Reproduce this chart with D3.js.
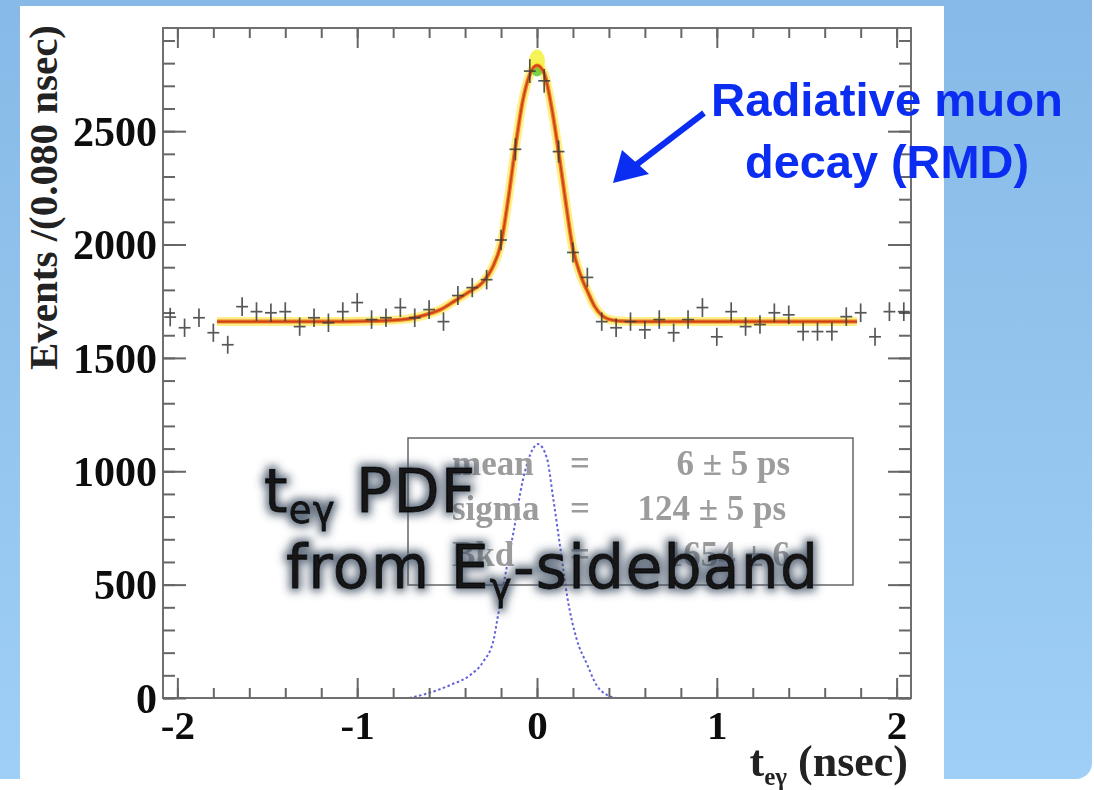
<!DOCTYPE html>
<html><head><meta charset="utf-8">
<script src="https://cdn.jsdelivr.net/npm/d3@7"></script>
<style>html,body{margin:0;padding:0;background:#fff;} svg{display:block}</style>
</head><body><svg id="c" width="1094" height="790"></svg>
<script>
// ---- data ----
const binCenters = [-2.04,-1.96,-1.88,-1.80,-1.72,-1.64,-1.56,-1.48,-1.40,-1.32,-1.24,-1.16,-1.08,-1.00,-0.92,-0.84,-0.76,-0.68,-0.60,-0.52,-0.44,-0.36,-0.28,-0.20,-0.12,-0.04,
                    0.04,0.12,0.20,0.28,0.36,0.44,0.52,0.60,0.68,0.76,0.84,0.92,1.00,1.08,1.16,1.24,1.32,1.40,1.48,1.56,1.64,1.72,1.80,1.88,1.96,2.04];
const counts = [1680,1633,1677,1611,1558,1726,1704,1699,1704,1638,1677,1655,1704,1744,1669,1677,1722,1677,1713,1660,1775,1810,1845,2020,2420,2765,
                2722,2410,1965,1855,1660,1633,1660,1624,1669,1611,1669,1722,1593,1704,1638,1647,1699,1690,1616,1616,1616,1682,1699,1593,1704,1704];
const fitT = [-1.78,-1.2,-0.9,-0.72,-0.62,-0.54,-0.46,-0.38,-0.30,-0.25,-0.20,-0.16,-0.12,-0.08,-0.04,0.0,0.04,0.08,0.12,0.16,0.20,0.24,0.28,0.32,0.36,0.40,0.46,0.6,1.0,1.78];
const fitN = [1660,1660,1663,1672,1690,1712,1750,1790,1835,1895,2005,2200,2430,2630,2750,2790,2755,2610,2410,2185,1980,1870,1795,1728,1688,1670,1663,1660,1660,1660];
const pdfT = [-0.71,-0.61,-0.48,-0.37,-0.30,-0.24,-0.22,-0.18,-0.13,-0.08,-0.02,0.005,0.055,0.09,0.13,0.17,0.22,0.28,0.33,0.39,0.44];
const pdfN = [0,20,58,102,159,261,350,527,735,956,1102,1120,1058,881,660,438,261,146,58,13,0];
const xTickValues = [-2,-1,0,1,2];
const yTickValues = [0,500,1000,1500,2000,2500];
const statNames = ["mean","sigma","Bkd"];
const statValues = ["6 \u00b1 5 ps","124 \u00b1 5 ps","1654 \u00b1 6"];

// ---- drawing ----
const svg = d3.select("#c");
const defs = svg.append("defs");
const g1 = defs.append("linearGradient").attr("id","bg").attr("x1",0).attr("y1",0).attr("x2",0).attr("y2",1);
g1.append("stop").attr("offset","0%").attr("stop-color","#86b9e6");
g1.append("stop").attr("offset","100%").attr("stop-color","#9fcff6");
const f = defs.append("filter").attr("id","glow").attr("x","-20%").attr("y","-40%").attr("width","140%").attr("height","180%");
f.append("feMorphology").attr("in","SourceAlpha").attr("operator","dilate").attr("radius",2.5).attr("result","d");
f.append("feGaussianBlur").attr("in","d").attr("stdDeviation",4).attr("result","b");
f.append("feFlood").attr("flood-color","#3a4a5e").attr("flood-opacity",0.78);
f.append("feComposite").attr("in2","b").attr("operator","in").attr("result","s");
const fm = f.append("feMerge"); fm.append("feMergeNode").attr("in","s"); fm.append("feMergeNode").attr("in","SourceGraphic");
const fb = defs.append("filter").attr("id","soft");
fb.append("feGaussianBlur").attr("stdDeviation",0.5);

svg.append("rect").attr("width",1094).attr("height",790).attr("fill","#fff");
svg.append("rect").attr("x",-20).attr("y",-20).attr("width",1112).attr("height",799).attr("rx",16).attr("fill","url(#bg)");
svg.append("rect").attr("x",20).attr("y",6).attr("width",924).attr("height",784).attr("fill","#fff");

const x = d3.scaleLinear().domain([-2.08,2.08]).range([163,911]);
const y = d3.scaleLinear().domain([0,2955]).range([698,28]);

const plot = svg.append("g").attr("filter","url(#soft)");

// stats box
const sb = svg.append("g");
sb.append("rect").attr("x",408).attr("y",438).attr("width",445).attr("height",147)
  .attr("fill","none").attr("stroke","#666").attr("stroke-width",1.5);
const statY = [475,520,566];
statNames.forEach((n,i)=>{
  const t = sb.append("g").attr("font-family","'Liberation Serif',serif").attr("font-weight","bold")
     .attr("font-size",35).attr("fill","#9c9c9c");
  t.append("text").attr("x",452).attr("y",statY[i]).text(n);
  t.append("text").attr("x",570).attr("y",statY[i]).text("=");
  t.append("text").attr("x",i===1?786:790).attr("y",statY[i]).attr("text-anchor","end").text(statValues[i]);
});

// blue dotted pdf
const pdfLine = d3.line().x(d=>x(d[0])).y(d=>y(d[1])).curve(d3.curveMonotoneX);
plot.append("path").datum(pdfT.map((t,i)=>[t,pdfN[i]])).attr("d",pdfLine)
  .attr("fill","none").attr("stroke","#3b3bd0").attr("stroke-width",2).attr("stroke-dasharray","2.5,2.5").attr("opacity",0.8);

// axes frame
plot.append("rect").attr("x",x(-2.08)).attr("y",y(2955)).attr("width",x(2.08)-x(-2.08)).attr("height",y(0)-y(2955))
  .attr("fill","none").attr("stroke","#707070").attr("stroke-width",2);

function styleAxis(g){ g.select(".domain").remove(); g.selectAll(".tick line").attr("stroke","#666").attr("stroke-width",2); }
const yMinor = d3.range(0,2955,100);
const xMinor = d3.range(-2,2.01,0.2);
// left
plot.append("g").attr("transform",`translate(${x(-2.08)},0)`).call(d3.axisLeft(y).tickValues(yMinor).tickSize(-12).tickFormat("")).call(styleAxis);
const yl = plot.append("g").attr("transform",`translate(${x(-2.08)},0)`).call(d3.axisLeft(y).tickValues(yTickValues).tickSize(-23).tickPadding(6).tickFormat(d3.format("d"))).call(styleAxis);
yl.selectAll("text").attr("font-family","'Liberation Serif',serif").attr("font-weight","bold").attr("font-size",42).attr("fill","#111").attr("dy","0.34em");
// right
plot.append("g").attr("transform",`translate(${x(2.08)},0)`).call(d3.axisRight(y).tickValues(yMinor).tickSize(-12).tickFormat("")).call(styleAxis);
plot.append("g").attr("transform",`translate(${x(2.08)},0)`).call(d3.axisRight(y).tickValues(yTickValues).tickSize(-23).tickFormat("")).call(styleAxis);
// bottom
plot.append("g").attr("transform",`translate(0,${y(0)})`).call(d3.axisBottom(x).tickValues(xMinor).tickSize(-10).tickFormat("")).call(styleAxis);
const xl = plot.append("g").attr("transform",`translate(0,${y(0)})`).call(d3.axisBottom(x).tickValues(xTickValues).tickSize(-20).tickPadding(12).tickFormat(d3.format("d"))).call(styleAxis);
xl.selectAll("text").attr("font-family","'Liberation Serif',serif").attr("font-weight","bold").attr("font-size",41).attr("fill","#111").attr("dy","0.71em").text(d=>d<0?"-"+Math.abs(d):d);
// top
plot.append("g").attr("transform",`translate(0,${y(2955)})`).call(d3.axisTop(x).tickValues(xMinor).tickSize(-10).tickFormat("")).call(styleAxis);
plot.append("g").attr("transform",`translate(0,${y(2955)})`).call(d3.axisTop(x).tickValues(xTickValues).tickSize(-20).tickFormat("")).call(styleAxis);

// axis titles
svg.append("text").attr("transform","translate(57,25) rotate(-90)").attr("text-anchor","end")
  .attr("font-family","'Liberation Serif',serif").attr("font-weight","bold").attr("font-size",41).attr("fill","#222")
  .text("Events /(0.080 nsec)");
const xt = svg.append("text").attr("x",908).attr("y",776).attr("text-anchor","end")
  .attr("font-family","'Liberation Serif',serif").attr("font-weight","bold").attr("font-size",44).attr("fill","#222");
xt.append("tspan").text("t");
xt.append("tspan").attr("font-size",25).attr("dy",9).text("e\u03b3");
xt.append("tspan").attr("dy",-9).text(" (nsec)");

// fit curve
const fitLine = d3.line().x(d=>x(d[0])).y(d=>y(d[1])).curve(d3.curveMonotoneX);
const fitData = fitT.map((t,i)=>[t,fitN[i]]);
plot.append("path").datum(fitData).attr("d",fitLine).attr("fill","none").attr("stroke","#ffe22a").attr("stroke-width",9).attr("opacity",0.55).attr("stroke-linejoin","round");
const peak = d3.greatest(fitData,d=>d[1]);
plot.append("ellipse").attr("cx",x(peak[0])).attr("cy",y(peak[1])-4).attr("rx",8).attr("ry",12).attr("fill","#f4f030").attr("opacity",0.8);
plot.append("circle").attr("cx",x(peak[0])).attr("cy",y(peak[1])+6).attr("r",5).attr("fill","#5ccf3a").attr("opacity",0.85);
plot.append("path").datum(fitData).attr("d",fitLine).attr("fill","none").attr("stroke","#ef7a22").attr("stroke-width",4);
plot.append("path").datum(fitData).attr("d",fitLine).attr("fill","none").attr("stroke","#c8401a").attr("stroke-width",1.6);

// data crosses
const pts = plot.append("g").attr("stroke","#3a3a3a").attr("stroke-width",1.7).attr("opacity",0.85);
binCenters.forEach((c,i)=>{
  const v = counts[i], e = Math.sqrt(v);
  pts.append("line").attr("x1",x(c-0.033)).attr("x2",x(c+0.033)).attr("y1",y(v)).attr("y2",y(v));
  pts.append("line").attr("x1",x(c)).attr("x2",x(c)).attr("y1",y(v-e)).attr("y2",y(v+e));
});

// overlay text
const ov = svg.append("g").attr("filter","url(#glow)").attr("font-family","'DejaVu Sans',sans-serif").attr("fill","#121212")
  .attr("stroke","#121212").attr("stroke-width",0.8).attr("letter-spacing",1.2);
const l1 = ov.append("text").attr("x",264).attr("y",512).attr("font-size",60);
l1.append("tspan").text("t");
l1.append("tspan").attr("font-size",37).attr("dy",11).text("e\u03b3");
l1.append("tspan").attr("dy",-11).text(" PDF");
const l2 = ov.append("text").attr("x",286).attr("y",588).attr("font-size",60);
l2.append("tspan").text("from E");
l2.append("tspan").attr("font-size",37).attr("dy",12).text("\u03b3");
l2.append("tspan").attr("dy",-12).text("-sideband");

// annotation
const blue = "#0b2df2";
const an = svg.append("g").attr("font-family","'Liberation Sans',Arial,sans-serif").attr("font-weight","bold").attr("fill",blue).attr("text-anchor","middle").attr("font-size",46);
an.append("text").attr("x",887).attr("y",116).attr("textLength",352).attr("lengthAdjust","spacingAndGlyphs").text("Radiative muon");
an.append("text").attr("x",887).attr("y",178).attr("textLength",284).attr("lengthAdjust","spacingAndGlyphs").text("decay (RMD)");
svg.append("line").attr("x1",704).attr("y1",113).attr("x2",636).attr("y2",165).attr("stroke",blue).attr("stroke-width",6);
svg.append("path").attr("d","M613,183 L622,150 L649,174 Z").attr("fill",blue);
</script>
</body></html>
